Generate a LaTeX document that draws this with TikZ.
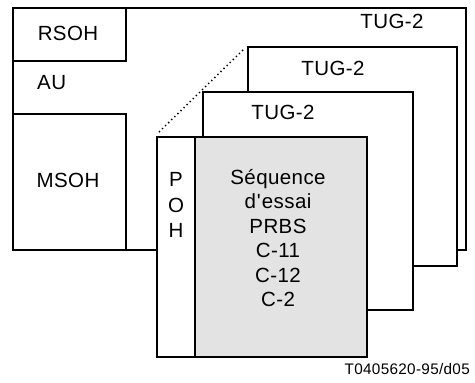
\documentclass[tikz,border=0pt]{standalone}
\usepackage{fontspec}
\setmainfont{Liberation Sans}[LetterSpace=2]
\usetikzlibrary{calc}
\definecolor{greyfill}{HTML}{E3E3E3}
\newcommand{\straightquote}{\XeTeXglyph\XeTeXglyphindex "quotesingle"\relax}
\tikzset{
  box/.style={draw=black, line width=1.6pt, fill=white, rectangle, inner sep=0pt, outer sep=0pt, anchor=north west},
  lbl/.style={font=\fontsize{20.5}{24}\selectfont, inner sep=0pt, align=center},
  captext/.style={font=\fontsize{15.3}{17}\selectfont, inner sep=0pt, anchor=east}
}
\begin{document}
\begin{tikzpicture}[x=1pt,y=-1pt]
\useasboundingbox (0,0) rectangle (475,383);
% outer TUG-2 frame
\node[box, minimum width=453pt, minimum height=242pt] (outer) at (13,8) {};
\node[box, minimum width=113pt, minimum height=53pt] (rsoh) at (13,8) {};
\node[box, minimum width=113pt, minimum height=136pt] (msoh) at (13,114) {};
\node[lbl] (trsoh) at (68,33) {RSOH};
\node[lbl, anchor=west] (tau) at (37,83) {AU};
\node[lbl] (tmsoh) at (68,180) {MSOH};
\node[lbl] (tug1) at (392,21) {TUG-2};
% second TUG-2
\node[box, minimum width=209pt, minimum height=219pt] (tugb) at (248,47) {};
\node[lbl] (tug2) at (333,68) {TUG-2};
% third TUG-2
\node[box, minimum width=210pt, minimum height=218pt] (tugc) at (203,92) {};
\node[lbl] (tug3) at (283,112) {TUG-2};
% front container
\node[box, minimum width=38pt, minimum height=220pt] (poh) at (157,137) {};
\node[box, fill=greyfill, minimum width=172pt, minimum height=220pt] (seq) at (195,137) {};
\node[lbl, font=\fontsize{20.5}{25.5}\selectfont] (tpoh) at (176,205) {P\\O\\H};
\node[lbl, font=\fontsize{20.5}{24.5}\selectfont, anchor=north] (tseq) at (278,169) {Séquence\\d\kern1pt\straightquote\kern1pt essai\\PRBS\\C-11\\C-12\\C-2};
% dotted perspective line
\draw[line width=1.5pt, dash pattern=on 1.3pt off 3pt] ($(poh.north west)+(2,-5)$) -- ($(tugb.north west)+(-4,2)$);
% caption
\node[captext] (caption) at (470,369) {T0405620-95/d05};
\end{tikzpicture}
\end{document}
